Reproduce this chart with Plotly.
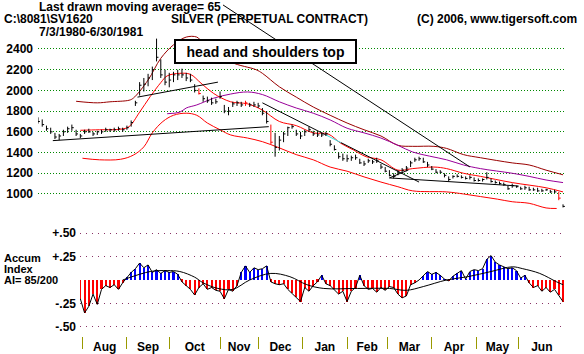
import plotly.graph_objects as go

W, H = 584, 354

# ---------------- data ----------------
# price bars, every second trading day from 7/3/1980 (day 0) to 6/30/1981 (day 248)
days = list(range(0, 250, 2))
high = [1740, 1720, 1660, 1640, 1590, 1580, 1620, 1650, 1670, 1620,
        1580, 1620, 1630, 1600, 1610, 1620, 1640, 1630, 1640, 1650,
        1640, 1660, 1710, 1900, 2080, 2120, 2160, 2230, 2500, 2300,
        2200, 2170, 2180, 2200, 2210, 2170, 2160, 2060, 2020, 1950,
        1940, 1930, 1920, 1990, 1860, 1840, 1890, 1900, 1890, 1900,
        1880, 1890, 1880, 1830, 1800, 1670, 1590, 1560, 1600, 1650,
        1670, 1620, 1600, 1620, 1650, 1610, 1600, 1590, 1600, 1520,
        1470, 1400, 1390, 1380, 1370, 1380, 1340, 1320, 1340, 1330,
        1350, 1290, 1260, 1230, 1200, 1230, 1250, 1270, 1320, 1350,
        1360, 1350, 1310, 1270, 1240, 1230, 1200, 1170, 1180, 1190,
        1180, 1170, 1180, 1160, 1150, 1150, 1210, 1150, 1130, 1120,
        1110, 1080, 1100, 1080, 1070, 1080, 1070, 1060, 1060, 1050,
        1050, 1040, 1040, 1020, 900]
low = [1680, 1650, 1610, 1580, 1530, 1520, 1560, 1590, 1610, 1560,
       1540, 1580, 1590, 1560, 1570, 1580, 1600, 1600, 1600, 1610,
       1600, 1620, 1650, 1850, 1950, 1990, 2040, 2100, 2280, 2120,
       2050, 2030, 2080, 2100, 2120, 2090, 2080, 1980, 1960, 1890,
       1880, 1860, 1870, 1920, 1780, 1760, 1840, 1850, 1840, 1850,
       1840, 1840, 1830, 1760, 1680, 1480, 1360, 1420, 1500, 1560,
       1630, 1560, 1530, 1560, 1600, 1560, 1550, 1550, 1560, 1460,
       1420, 1340, 1320, 1310, 1320, 1330, 1290, 1270, 1300, 1290,
       1300, 1240, 1210, 1170, 1150, 1180, 1200, 1220, 1260, 1310,
       1320, 1300, 1260, 1230, 1200, 1200, 1160, 1120, 1150, 1160,
       1150, 1140, 1140, 1120, 1120, 1120, 1140, 1110, 1100, 1090,
       1080, 1040, 1060, 1060, 1040, 1040, 1030, 1030, 1020, 1020,
       1030, 1010, 1010, 940, 870]
close = [1700, 1670, 1630, 1600, 1550, 1560, 1600, 1630, 1640, 1580,
         1560, 1600, 1600, 1580, 1600, 1600, 1620, 1620, 1620, 1630,
         1620, 1640, 1690, 1880, 2050, 2060, 2120, 2200, 2320, 2150,
         2080, 2100, 2150, 2150, 2150, 2120, 2100, 2000, 1970, 1920,
         1900, 1880, 1890, 1940, 1800, 1800, 1870, 1880, 1860, 1880,
         1860, 1860, 1850, 1780, 1700, 1500, 1450, 1520, 1580, 1640,
         1650, 1580, 1560, 1600, 1620, 1580, 1570, 1570, 1580, 1480,
         1430, 1360, 1340, 1340, 1350, 1350, 1300, 1290, 1320, 1310,
         1320, 1260, 1220, 1180, 1170, 1210, 1230, 1250, 1300, 1330,
         1340, 1310, 1280, 1240, 1210, 1210, 1180, 1140, 1170, 1170,
         1160, 1150, 1160, 1130, 1130, 1140, 1160, 1120, 1110, 1100,
         1090, 1050, 1080, 1070, 1050, 1060, 1040, 1040, 1030, 1030,
         1040, 1020, 1020, 960, 880]
red_bar_days = [76, 98, 110, 246]

# moving-average bands
r1_days = [20, 29, 39, 43, 48, 53, 58, 61, 67, 72, 77, 83, 91, 99, 106, 114, 122, 130, 137, 143,
           149, 155, 162, 170, 177, 187, 193, 201, 209, 224, 240, 248]
r1 = [1615, 1620, 1625, 1650, 1790, 1940, 2075, 2140, 2165, 2155, 2070, 1970, 1890, 1870, 1810,
      1700, 1660, 1590, 1580, 1490, 1425, 1360, 1330, 1230, 1245, 1260, 1245, 1200, 1170, 1110,
      1060, 1020]
r2_days = [21, 29, 39, 45, 50, 54, 59, 64, 70, 75, 80, 86, 91, 99, 106, 114, 122, 130, 138, 146,
           154, 162, 170, 177, 193, 201, 209, 217, 224, 232, 240, 245]
r2 = [1345, 1330, 1335, 1375, 1455, 1590, 1700, 1760, 1780, 1760, 1685, 1620, 1570, 1540, 1505,
      1445, 1380, 1330, 1260, 1220, 1165, 1115, 1070, 1030, 1020, 1000, 975, 950, 925, 910,
      865, 860]
m_days = [18, 28, 34, 43, 45, 52, 58, 64, 70, 75, 78, 91, 103, 106, 114, 122, 130, 138, 146, 154,
          162, 170, 177, 187, 193, 201, 209, 224, 232, 240, 248]
m = [1895, 1880, 1890, 1905, 1925, 2100, 2310, 2440, 2515, 2515, 2460, 2275, 2200, 2165, 2035,
     1935, 1840, 1760, 1685, 1620, 1560, 1470, 1460, 1460, 1440, 1380, 1350, 1300, 1280, 1230, 1185]
p_days = [61, 67, 70, 75, 83, 91, 99, 106, 114, 122, 130, 138, 146, 154, 162, 170, 177, 185, 193,
          201, 209, 224, 232, 240, 248]
p = [1775, 1790, 1830, 1860, 1925, 1965, 1985, 1960, 1890, 1830, 1780, 1715, 1635, 1590, 1540,
     1470, 1405, 1365, 1330, 1280, 1245, 1200, 1170, 1135, 1110]

# hand-drawn trend lines: start day, start price, end day, end price
tl_x0 = [7, 47, 106, 143, 166, 166, 87.4]
tl_y0 = [1515, 1935, 1880, 1497, 1155, 1155, 2825]
tl_x1 = [109, 85, 136, 180, 227, 175, 204]
tl_y1 = [1650, 2080, 1570, 1115, 1077, 1232, 1261]
cyan_x = [136, 143]
cyan_y = [1570, 1497]

# accumulation index
ai_days = list(range(20, 250, 2))
ai = [-0.20, -0.35, -0.28, -0.15, -0.26, -0.10, -0.06, -0.08, -0.05, -0.10,
      -0.03, 0.03, 0.08, 0.12, 0.18, 0.13, 0.16, 0.08, 0.11, 0.07,
      0.10, 0.08, 0.09, 0.06, -0.02, -0.06, -0.10, -0.16, -0.08, -0.04,
      -0.10, -0.08, -0.11, -0.12, -0.20, -0.10, -0.12, -0.06, 0.08, 0.15,
      0.08, 0.13, 0.11, 0.12, 0.15, -0.02, -0.04, -0.05, -0.04, -0.10,
      -0.14, -0.18, -0.23, -0.08, -0.12, -0.06, -0.02, 0.05, -0.04, -0.06,
      -0.10, -0.15, -0.12, -0.23, -0.12, -0.08, 0.05, -0.06, -0.10, -0.09,
      -0.13, -0.08, -0.11, -0.07, -0.08, -0.15, -0.19, -0.17, -0.05, -0.03,
      0.00, 0.04, 0.09, 0.06, 0.08, 0.05, 0.01, -0.01, 0.04, 0.07,
      0.10, 0.01, 0.09, 0.11, 0.10, 0.12, 0.22, 0.26, 0.19, 0.16,
      0.14, 0.12, 0.13, 0.10, 0.02, 0.05, -0.03, -0.08, -0.06, -0.12,
      -0.08, -0.13, -0.10, -0.16, -0.23]
ai_ma_days = [40, 53, 61, 67, 74, 78, 85, 92, 100, 110, 119, 127, 135, 151, 166, 174, 182, 193,
              203, 214, 224, 229, 237, 245, 248]
ai_ma = [0.00, 0.09, 0.10, 0.09, 0.03, -0.03, -0.09, -0.10, 0.00, 0.07, 0.035, -0.05, -0.09,
         -0.09, -0.09, -0.11, -0.07, 0.00, 0.035, 0.09, 0.14, 0.12, 0.07, -0.02, -0.05]

# axes
price_ticks = [1000, 1200, 1400, 1600, 1800, 2000, 2200, 2400]
ai_ticks = [0.5, 0.25, -0.25, -0.5]
ai_ticktext = ["+.50", "+.25", "-.25", "-.50"]
month_starts = [21, 42, 62, 86, 104, 125, 146, 165, 186, 207, 227]
last_day = 249
months = ["Aug", "Sep", "Oct", "Nov", "Dec", "Jan", "Feb", "Mar", "Apr", "May", "Jun"]

# ---------------- figure ----------------
FONT = "Liberation Sans"
PX_PER_DAY = 2.117
X0 = 38


def px(x):
    return x / W


def py(y):
    return 1 - y / H


fig = go.Figure()

# bands
fig.add_trace(go.Scatter(x=m_days, y=m, mode="lines", line=dict(color="#990000", width=1, shape="spline"),
                         xaxis="x", yaxis="y", hoverinfo="skip"))
fig.add_trace(go.Scatter(x=p_days, y=p, mode="lines", line=dict(color="#990099", width=1, shape="spline"),
                         xaxis="x", yaxis="y", hoverinfo="skip"))
fig.add_trace(go.Scatter(x=r1_days, y=r1, mode="lines", line=dict(color="#ff0000", width=1, shape="spline"),
                         xaxis="x", yaxis="y", hoverinfo="skip"))
fig.add_trace(go.Scatter(x=r2_days, y=r2, mode="lines", line=dict(color="#ff0000", width=1, shape="spline"),
                         xaxis="x", yaxis="y", hoverinfo="skip"))

# trend lines
tx, ty = [], []
for a, b, c, d in zip(tl_x0, tl_y0, tl_x1, tl_y1):
    tx += [a, c, None]
    ty += [b, d, None]
fig.add_trace(go.Scatter(x=tx, y=ty, mode="lines", line=dict(color="black", width=1),
                         xaxis="x", yaxis="y", hoverinfo="skip"))
fig.add_trace(go.Scatter(x=cyan_x, y=cyan_y, mode="lines", line=dict(color="#33dddd", width=1),
                         xaxis="x", yaxis="y", hoverinfo="skip"))

# price bars
bx, by, rx, ry = [], [], [], []
for d, h, l, c in zip(days, high, low, close):
    seg_x = [d, d, None, d, d + 0.9, None]
    seg_y = [l, h, None, c, c, None]
    if d in red_bar_days:
        rx += seg_x
        ry += seg_y
    else:
        bx += seg_x
        by += seg_y
fig.add_trace(go.Scatter(x=bx, y=by, mode="lines", line=dict(color="black", width=1),
                         xaxis="x", yaxis="y", hoverinfo="skip"))
fig.add_trace(go.Scatter(x=rx, y=ry, mode="lines", line=dict(color="#ff0000", width=1),
                         xaxis="x", yaxis="y", hoverinfo="skip"))

# accumulation index
fig.add_trace(go.Bar(x=ai_days, y=ai, width=1.0,
                     marker=dict(color=["#0000ff" if v > 0 else "#ff0000" for v in ai], line=dict(width=0)),
                     xaxis="x2", yaxis="y2", hoverinfo="skip"))
fig.add_trace(go.Scatter(x=ai_days, y=ai, mode="lines", line=dict(color="black", width=1),
                         xaxis="x2", yaxis="y2", hoverinfo="skip"))
fig.add_trace(go.Scatter(x=ai_ma_days, y=ai_ma, mode="lines", line=dict(color="black", width=1, shape="spline"),
                         xaxis="x2", yaxis="y2", hoverinfo="skip"))
# invisible trace to activate month label axis
label_pos = [(a + b) / 2 for a, b in zip(month_starts, month_starts[1:] + [last_day])]
fig.add_trace(go.Scatter(x=label_pos, y=[0] * len(label_pos), mode="markers", marker=dict(opacity=0),
                         xaxis="x3", yaxis="y2", hoverinfo="skip"))

x_end = (566 - X0) / PX_PER_DAY
tickfont = dict(family=FONT, size=12, color="black", weight="bold")

fig.update_layout(
    width=W, height=H, margin=dict(l=0, r=0, t=0, b=0),
    paper_bgcolor="white", plot_bgcolor="white", showlegend=False, bargap=0,
    xaxis=dict(domain=[px(38), px(566)], range=[0, x_end], anchor="y",
               showgrid=False, zeroline=False, showticklabels=False, ticks=""),
    yaxis=dict(domain=[py(218), py(0)], range=[768, 2873], anchor="x",
               tickvals=price_ticks, ticktext=[str(v) for v in price_ticks],
               tickfont=tickfont, ticks="", ticklabelstandoff=4,
               showgrid=True, gridcolor="#008800", griddash="1px,2px", gridwidth=1, zeroline=False),
    xaxis2=dict(domain=[px(80), px(566)], range=[(80 - X0) / PX_PER_DAY, x_end], anchor="y2",
                tickvals=month_starts, showticklabels=False, ticks="outside", ticklen=12,
                tickcolor="#999900", tickwidth=1, showgrid=False, zeroline=False, showline=False),
    xaxis3=dict(overlaying="x2", matches="x2", anchor="y2", side="bottom",
                tickvals=label_pos, ticktext=months, ticks="", tickfont=tickfont,
                ticklabelstandoff=2, showgrid=False, zeroline=False, showline=False),
    yaxis2=dict(domain=[py(336), py(222)], range=[-0.596, 0.617], anchor="x2",
                tickvals=ai_ticks, ticktext=ai_ticktext, tickfont=tickfont, ticks="",
                ticklabelstandoff=3, showgrid=True, gridcolor="#883366", griddash="1px,5px",
                gridwidth=1, zeroline=False),
)

ann = []


def text(x, y, s, size=12, xanchor="left"):
    ann.append(dict(x=px(x), y=py(y), xref="paper", yref="paper", text="<b>" + s + "</b>",
                    showarrow=False, xanchor=xanchor, yanchor="middle",
                    font=dict(family=FONT, size=size, color="black")))


text(37, 7, "Last drawn moving average= 65")
text(2, 19, "C:\\8081\\SV1620")
text(37, 32, "7/3/1980-6/30/1981")
text(169, 19, "SILVER (PERPETUAL CONTRACT)")
text(415, 19, "(C) 2006, www.tigersoft.com")
text(2, 258, "Accum", size=11)
text(2, 269, "Index", size=11)
text(2, 280, "AI= 85/200", size=11)
text(2, 360, "Accumulation Index (blue/red) with its moving average, above and below the 40-day NSI")

ann.append(dict(x=px(265.5), y=py(51.5), xref="paper", yref="paper",
                text="<b>head and shoulders top</b>", showarrow=False,
                xanchor="center", yanchor="middle", width=177, height=19,
                bgcolor="white", bordercolor="black", borderwidth=2, borderpad=1,
                font=dict(family=FONT, size=14, color="black")))

fig.update_layout(annotations=ann)

fig.write_html("out.html")
